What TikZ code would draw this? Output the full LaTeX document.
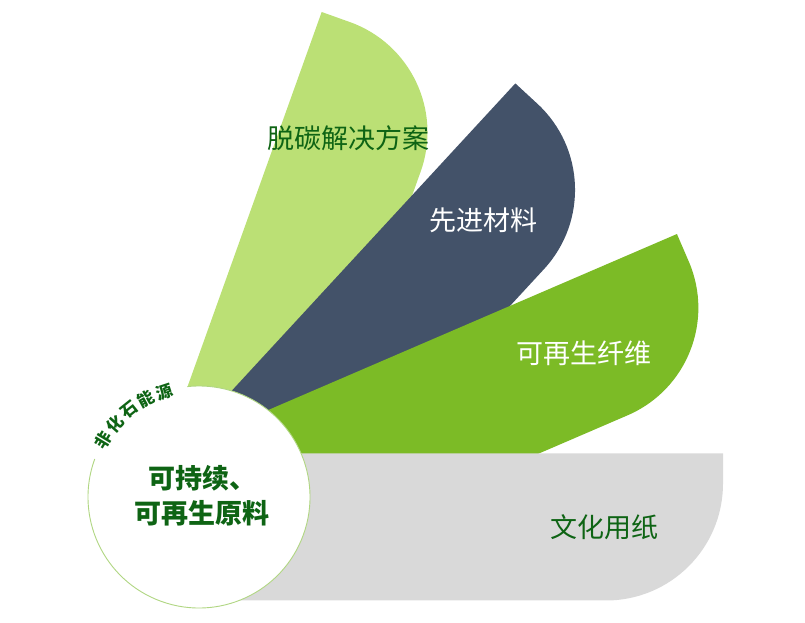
\documentclass[tikz,border=0pt]{standalone}
\usepackage{fontspec}
\newfontfamily\cjk{Noto Sans CJK SC}
\definecolor{leaf_light}{RGB}{187, 224, 117}
\definecolor{leaf_slate}{RGB}{67, 82, 105}
\definecolor{leaf_green}{RGB}{124, 187, 38}
\definecolor{leaf_grey}{RGB}{217, 217, 217}
\definecolor{text_green}{RGB}{14, 100, 20}
\definecolor{ring_green}{RGB}{176, 214, 130}
\tikzstyle{lbl}=[font=\cjk\fontsize{27}{30}\selectfont,text=text_green,
  inner sep=0pt]
\tikzstyle{lblw}=[lbl,text=white]
\tikzstyle{core}=[font=\cjk\bfseries\fontsize{27}{35}\selectfont,text=text_green,
  align=center,inner sep=0pt]
\tikzstyle{hub}=[circle,fill=white,inner sep=0pt,outer sep=0pt,minimum size=222pt]
\tikzstyle{ring}=[draw=ring_green,line width=0.9pt]
\tikzstyle{arcch}=[font=\cjk\bfseries\fontsize{16.5}{16.5}\selectfont,text=text_green,
  inner sep=0pt]

\begin{document}
\begin{tikzpicture}[x=1pt, y=1pt]
        \useasboundingbox (0, 0) rectangle (805, 623);
        % petals, back to front
        \begin{scope}[shift={(199, 126)}, rotate=70.3]
            \fill [leaf_light] (0, 48) -- (498, 48) -- (498, 18)
                arc [start angle=0, end angle=-90, radius=117] -- (0, -99) -- cycle;
        \end{scope}
        \begin{scope}[shift={(199, 126)}, rotate=47.3]
            \fill [leaf_slate] (0, 48) -- (518.5, 48) -- (518.5, 18)
                arc [start angle=0, end angle=-90, radius=117] -- (0, -99) -- cycle;
        \end{scope}
        \begin{scope}[shift={(199, 126)}, rotate=23.3]
            \fill [leaf_green] (0, 52.5) -- (543, 52.5) -- (543, 22.5)
                arc [start angle=0, end angle=-90, radius=117] -- (0, -94.5) -- cycle;
        \end{scope}
        \fill [leaf_grey] (199, 169.5) -- (723, 169.5) -- (723, 139.5)
            arc [start angle=0, end angle=-90, radius=117] -- (199, 22.5) -- cycle;
        \node [style=lbl] (0) at (348, 485) {脱碳解决方案};
        \node [style=lblw] (1) at (483, 403) {先进材料};
        \node [style=lblw] (2) at (584, 270) {可再生纤维};
        \node [style=lbl] (3) at (604, 96) {文化用纸};
        % hub
        \node [style=hub] (9) at (199, 126) {};
        \draw [style=ring] (9.160) arc [start angle=160, end angle=456, radius=111];
        \node [style=core] (10) at (202, 127.5) {可持续、\\可再生原料};
        \node [style=arcch, rotate=59] (11) at ([shift={(149:111)}]9.center) {非};
        \node [style=arcch, rotate=48.8] (12) at ([shift={(138.8:111)}]9.center) {化};
        \node [style=arcch, rotate=38.6] (13) at ([shift={(128.6:111)}]9.center) {石};
        \node [style=arcch, rotate=28.4] (14) at ([shift={(118.4:111)}]9.center) {能};
        \node [style=arcch, rotate=18.2] (15) at ([shift={(108.2:111)}]9.center) {源};
    \end{tikzpicture}
\end{document}
